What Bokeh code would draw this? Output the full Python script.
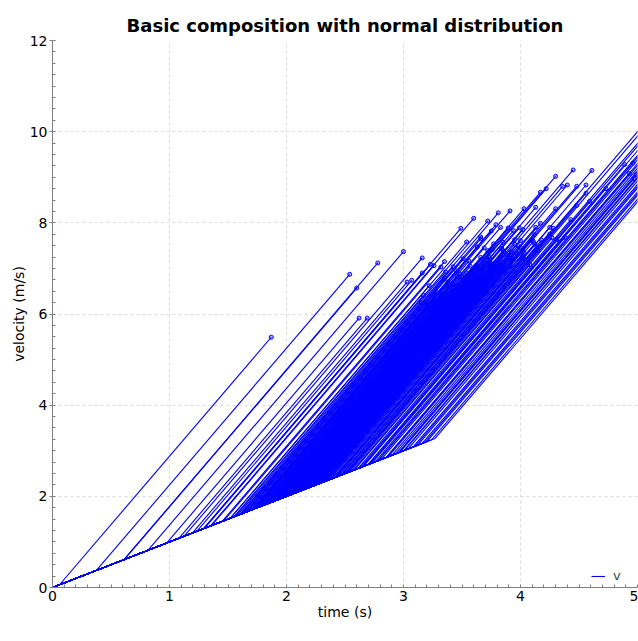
from bokeh.plotting import figure
from bokeh.models import Legend, LegendItem, ColumnDataSource, Range1d, FixedTicker
from bokeh.embed import file_html
from bokeh.resources import INLINE

# accelerations of the two phases (m/s^2)
a1 = 1.0
a2 = 3.0

# duration of phase 1 (s) for each sample
t1 = [
    0.06, 0.375, 0.615, 0.975, 1.08, 0.61, 0.815, 1.195, 1.235, 1.125,
    1.29, 1.30, 1.36, 1.45, 1.295, 1.52, 1.35, 1.56, 1.605, 1.735,
    1.705, 1.795, 1.715, 1.645, 1.71, 1.885, 1.62, 1.465, 1.90, 1.995,
    1.89, 2.105, 2.025, 1.92, 1.955, 1.94, 2.095, 2.34, 2.14, 2.185,
    2.32, 2.425, 2.515, 2.53, 2.65, 2.72, 2.695, 2.785, 2.855, 2.955,
    2.97, 2.295, 2.61, 2.26, 2.425, 2.48, 2.245, 2.04, 2.65, 2.73,
    2.58, 2.195, 2.335, 1.885, 2.11, 1.665, 2.17, 2.185, 2.275,
    2.50, 2.66, 2.78, 2.85, 2.90, 2.96, 3.00, 3.04, 3.08, 3.12,
    3.16, 3.20, 3.24, 3.27,
    1.52, 1.55, 1.58, 1.60, 1.63, 1.66, 1.68, 1.70, 1.72, 1.74,
    1.76, 1.78, 1.80, 1.81, 1.83, 1.84, 1.86, 1.87, 1.89, 1.90,
    1.91, 1.93, 1.94, 1.95, 1.97, 1.98, 1.99, 2.00, 2.01, 2.03,
    2.04, 2.05, 2.07, 2.08, 2.09, 2.11, 2.12, 2.13, 2.15, 2.16,
    2.18, 2.19, 2.21, 2.22, 2.24, 2.26, 2.27, 2.29, 2.31, 2.33,
    2.35, 2.37, 2.39, 2.41, 2.44, 2.47, 2.50, 2.53, 2.57,
    2.55, 2.63, 2.71, 2.76, 2.81, 2.87, 2.93, 3.01, 3.10, 3.18,
    1.66, 1.70, 1.73, 1.75, 1.77, 1.78, 1.80, 1.81, 1.82, 1.84,
    1.85, 1.86, 1.87, 1.88, 1.89, 1.90, 1.91, 1.92, 1.93, 1.94,
    1.95, 1.96, 1.97, 1.98, 1.99, 2.00, 2.01, 2.02, 2.03, 2.04,
    2.05, 2.06, 2.07, 2.08, 2.09, 2.10, 2.11, 2.12, 2.13, 2.14,
    2.15, 2.16, 2.17, 2.18, 2.19, 2.20, 2.21, 2.22, 2.23, 2.25,
    2.27, 2.29, 2.31, 2.34, 2.37, 2.41, 2.46,
]

# duration of phase 2 (s) for each sample
t2 = [
    1.81, 2.165, 1.985, 1.645, 1.61, 2.17, 2.185, 1.835, 1.835, 2.035,
    1.87, 1.93, 1.90, 1.90, 2.195, 2.02, 2.25, 2.16, 2.205, 2.175,
    2.085, 2.035, 2.035, 2.015, 1.92, 1.835, 1.805, 1.855, 1.995, 1.945,
    2.14, 1.915, 2.105, 2.25, 2.265, 2.36, 2.355, 2.27, 2.22, 2.215,
    2.16, 2.135, 2.045, 1.95, 1.94, 2.01, 2.195, 2.175, 2.075, 2.035,
    2.00, 2.005, 1.82, 1.91, 1.825, 1.80, 1.885, 1.95, 1.66, 1.65,
    1.50, 1.805, 1.765, 1.885, 1.75, 1.995, 1.62, 1.555, 1.425,
    2.55, 2.40, 2.30, 2.20, 2.15, 2.10, 2.05, 2.00, 1.98, 1.95,
    1.90, 1.85, 1.80, 1.78,
    1.70, 1.62, 1.78, 1.55, 1.72, 1.85, 1.60, 1.75, 1.66, 1.52,
    1.80, 1.70, 1.62, 1.88, 1.74, 1.58, 1.68, 1.79, 1.64, 1.72,
    1.55, 1.83, 1.69, 1.61, 1.76, 1.66, 1.86, 1.58, 1.73, 1.64,
    1.80, 1.69, 1.57, 1.77, 1.67, 1.84, 1.60, 1.72, 1.65, 1.79,
    1.54, 1.70, 1.62, 1.76, 1.68, 1.58, 1.73, 1.64, 1.81, 1.69,
    1.56, 1.74, 1.63, 1.71, 1.59, 1.67, 1.75, 1.62, 1.70,
    2.50, 2.42, 2.35, 2.30, 2.25, 2.18, 2.12, 2.05, 1.96, 1.88,
    1.52, 1.58, 1.47, 1.63, 1.56, 1.68, 1.49, 1.61, 1.54, 1.66,
    1.50, 1.59, 1.53, 1.63, 1.48, 1.57, 1.70, 1.51, 1.60, 1.54,
    1.65, 1.49, 1.59, 1.71, 1.52, 1.62, 1.56, 1.50, 1.66, 1.59,
    1.53, 1.68, 1.61, 1.57, 1.49, 1.64, 1.55, 1.60, 1.70, 1.52,
    1.63, 1.58, 1.66, 1.54, 1.61, 1.72, 1.57, 1.50, 1.65, 1.60,
    1.69, 1.55, 1.63, 1.58, 1.66, 1.61, 1.72,
]

xs, ys, end_t, end_v = [], [], [], []
for d1, d2 in zip(t1, t2):
    v1 = a1 * d1
    T = d1 + d2
    V = v1 + a2 * d2
    xs.append([0.0, d1, T])
    ys.append([0.0, v1, V])
    end_t.append(T)
    end_v.append(V)

x_ticks = [0, 1, 2, 3, 4, 5]
y_ticks = [0, 2, 4, 6, 8, 10, 12]

p = figure(frame_width=585, frame_height=547, output_backend="svg", toolbar_location=None,
           x_range=Range1d(0, 5), y_range=Range1d(0, 12),
           min_border_left=52, min_border_right=1, min_border_top=40, min_border_bottom=54,
           title="Basic composition with normal distribution")
p.outline_line_color = None
p.background_fill_color = "white"
p.border_fill_color = "white"

p.title.align = "center"
p.title.offset = 11
p.title.standoff = 10
p.title.text_font = "DejaVu Sans"
p.title.text_font_style = "bold"
p.title.text_font_size = "18px"
p.title.text_color = "#000000"

src_lines = ColumnDataSource(dict(xs=xs, ys=ys))
src_pts = ColumnDataSource(dict(x=end_t, y=end_v))
r = p.multi_line("xs", "ys", source=src_lines, line_color="#0000ff", line_width=1.1)
p.scatter("x", "y", source=src_pts, marker="circle", size=4, line_color="#0000ff",
          fill_color="#0000ff", fill_alpha=0.3, line_width=1)

p.xaxis.ticker = FixedTicker(ticks=x_ticks, minor_ticks=[i / 10 for i in range(0, 51)])
p.yaxis.ticker = FixedTicker(ticks=y_ticks, minor_ticks=[i / 4 for i in range(0, 49)])
p.xaxis.axis_label = "time (s)"
p.yaxis.axis_label = "velocity (m/s)"
for ax in (p.xaxis[0], p.yaxis[0]):
    ax.axis_line_color = "#808080"
    ax.major_tick_line_color = "#808080"
    ax.minor_tick_line_color = "#808080"
    ax.major_tick_in = 0
    ax.major_tick_out = 3
    ax.minor_tick_in = 3
    ax.minor_tick_out = 0
    ax.major_label_text_font = "DejaVu Sans"
    ax.major_label_text_font_size = "14px"
    ax.major_label_text_color = "#000000"
    ax.axis_label_text_font = "DejaVu Sans"
    ax.axis_label_text_font_size = "14px"
    ax.axis_label_text_font_style = "normal"
    ax.axis_label_text_color = "#000000"
    ax.major_label_standoff = 2
    ax.axis_label_standoff = 0
p.xaxis.major_tick_out = 0
p.xaxis.major_label_standoff = 3

p.xgrid.ticker = FixedTicker(ticks=x_ticks)
p.ygrid.ticker = FixedTicker(ticks=y_ticks)
for g in (p.xgrid[0], p.ygrid[0]):
    g.grid_line_color = "#dcdcdc"
    g.grid_line_dash = "3 3"
    g.grid_line_width = 1

legend = Legend(items=[LegendItem(label="v", renderers=[r])], location="bottom_right",
                orientation="horizontal", border_line_color=None, background_fill_alpha=0,
                padding=2, margin=4, spacing=0, glyph_width=14, glyph_height=12,
                label_height=12, label_standoff=8,
                label_text_font="DejaVu Sans", label_text_font_size="13px")
p.add_layout(legend, "center")

open("out.html", "w").write(file_html(p, INLINE))
